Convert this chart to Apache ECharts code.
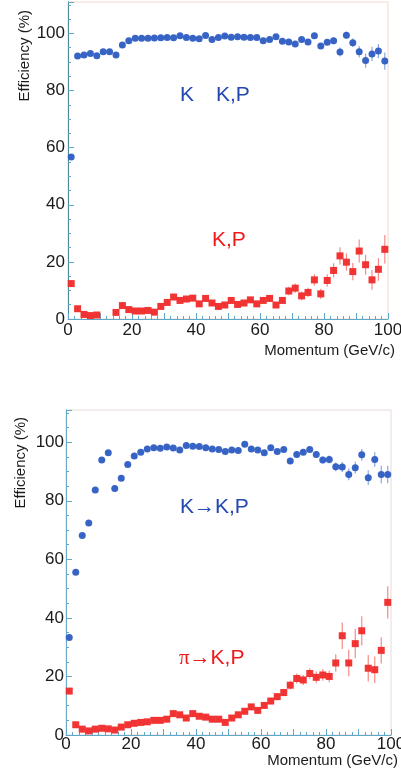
<!DOCTYPE html>
<html>
<head>
<meta charset="utf-8">
<script src="https://cdn.jsdelivr.net/npm/echarts@6/dist/echarts.min.js"></script>
<style>
  html, body { margin: 0; padding: 0; background: #ffffff; }
  #chart { width: 401px; height: 782px; }
</style>
</head>
<body>
<div id="chart"></div>
<script>
// Momentum bin centres (GeV/c)
const momentum = [1, 3, 5, 7, 9, 11, 13, 15, 17, 19, 21, 23, 25, 27, 29, 31, 33, 35, 37, 39,
  41, 43, 45, 47, 49, 51, 53, 55, 57, 59, 61, 63, 65, 67, 69, 71, 73, 75, 77, 79,
  81, 83, 85, 87, 89, 91, 93, 95, 97, 99];

// Upper panel: kaon efficiency and misidentification (%)
const topKaonEff = [56.7, 92.1, 92.4, 93.0, 92.2, 93.6, 93.6, 92.4, 95.9, 97.4,
  98.3, 98.3, 98.3, 98.4, 98.5, 98.6, 98.5, 99.2, 98.6, 98.3,
  98.1, 99.3, 97.9, 98.6, 99.1, 98.7, 98.8, 98.7, 98.6, 98.6,
  97.4, 97.9, 98.8, 97.3, 97.0, 96.3, 97.9, 97.0, 99.2, 95.6,
  96.9, 97.4, 93.5, 99.4, 96.7, 93.6, 90.5, 92.8, 93.8, 90.3];
const topKaonErr = [0.8, 0.6, 0.5, 0.5, 0.5, 0.5, 0.5, 0.5, 0.5, 0.5,
  0.4, 0.4, 0.4, 0.4, 0.4, 0.4, 0.4, 0.4, 0.4, 0.4,
  0.4, 0.4, 0.4, 0.4, 0.4, 0.4, 0.4, 0.4, 0.5, 0.5,
  0.5, 0.5, 0.5, 0.6, 0.6, 0.7, 0.7, 0.8, 0.8, 1.0,
  1.0, 1.2, 1.6, 1.2, 1.5, 2.0, 2.5, 2.5, 2.5, 3.0];
const topMisId = [12.4, 3.6, 1.6, 1.2, 1.4, null, null, 2.3, 4.7, 3.3,
  2.8, 2.8, 3.0, 2.4, 4.4, 5.8, 7.7, 6.5, 7.0, 7.3,
  5.3, 7.2, 5.6, 4.4, 4.9, 6.5, 5.1, 5.6, 6.7, 5.3,
  6.5, 7.2, 4.9, 6.5, 9.8, 10.8, 8.1, 9.3, 13.7, 8.8,
  13.5, 17.0, 22.1, 19.9, 16.6, 23.8, 19.0, 13.7, 17.4, 24.4];
const topMisIdErr = [1.0, 0.8, 0.6, 0.6, 0.6, 0, 0, 0.6, 0.8, 0.7,
  0.6, 0.6, 0.6, 0.6, 0.7, 0.8, 0.9, 0.8, 0.8, 0.9,
  0.8, 0.9, 0.8, 0.8, 0.8, 0.9, 0.8, 0.9, 1.0, 0.9,
  1.0, 1.1, 1.0, 1.1, 1.5, 1.6, 1.5, 1.6, 2.0, 1.8,
  2.2, 2.5, 3.0, 3.0, 3.0, 4.0, 3.5, 3.5, 4.0, 5.0];

// Lower panel: K -> K,P and pi -> K,P (%)
const botKaonEff = [33.3, 55.6, 68.1, 72.4, 83.7, 93.9, 96.4, 84.2, 87.7, 92.4,
  95.3, 96.6, 97.7, 98.1, 97.9, 98.4, 98.0, 97.3, 98.9, 98.6,
  98.5, 98.1, 97.7, 97.5, 96.8, 97.3, 97.2, 99.3, 97.7, 97.3,
  96.4, 98.1, 96.8, 97.5, 93.6, 95.8, 96.6, 97.5, 95.8, 93.9,
  94.1, 91.6, 91.5, 89.0, 91.3, 95.7, 87.9, 94.1, 89.0, 89.0];
const botKaonErr = [0.8, 0.8, 0.7, 0.7, 0.6, 0.5, 0.5, 0.6, 0.6, 0.5,
  0.5, 0.4, 0.4, 0.4, 0.4, 0.4, 0.4, 0.4, 0.4, 0.4,
  0.4, 0.4, 0.4, 0.4, 0.5, 0.5, 0.5, 0.5, 0.5, 0.5,
  0.6, 0.6, 0.6, 0.7, 1.0, 0.9, 0.9, 0.9, 1.0, 1.2,
  1.4, 1.5, 1.7, 2.0, 2.0, 2.0, 2.5, 2.5, 3.0, 3.0];
const botMisId = [15.0, 3.5, 2.0, 1.4, 2.0, 2.3, 2.1, 1.7, 2.7, 3.5,
  4.0, 4.3, 4.5, 5.0, 5.0, 5.4, 7.3, 6.9, 5.8, 7.3,
  6.4, 6.1, 5.4, 5.4, 4.3, 5.8, 6.9, 8.1, 9.6, 8.4,
  10.1, 11.6, 13.1, 14.5, 17.0, 19.3, 18.8, 21.0, 19.7, 20.5,
  20.0, 24.6, 33.9, 24.6, 31.2, 35.6, 22.8, 22.3, 28.9, 45.3];
const botMisIdErr = [1.0, 0.7, 0.6, 0.5, 0.6, 0.6, 0.6, 0.6, 0.6, 0.6,
  0.7, 0.7, 0.7, 0.7, 0.7, 0.8, 0.8, 0.8, 0.8, 0.8,
  0.8, 0.8, 0.8, 0.8, 0.8, 0.8, 0.9, 0.9, 1.0, 1.0,
  1.0, 1.1, 1.2, 1.3, 1.5, 1.7, 1.7, 1.8, 2.0, 2.0,
  2.0, 3.0, 4.5, 4.5, 5.0, 5.0, 4.5, 4.5, 4.5, 5.5];

const xTickLabels = ['0', '20', '40', '60', '80', '100'];
const yTickLabels = ['0', '20', '40', '60', '80', '100'];

const BLUE = '#2d5cc2';
const RED = '#f02a2a';
const AXIS = '#5fa9c8';
const FONT = '"Liberation Sans", Arial, sans-serif';

function points(vals, errs) {
  return momentum.map((m, i) => vals[i] == null ? [m, null, 0] : [m, vals[i], errs[i]]);
}

function errorBars(color) {
  return function (params, api) {
    const y = api.value(1);
    if (y == null || isNaN(y)) return null;
    const x = api.value(0);
    const e = api.value(2);
    const hi = api.coord([x, y + e]);
    const lo = api.coord([x, y - e]);
    return {
      type: 'line',
      shape: { x1: hi[0], y1: hi[1], x2: lo[0], y2: lo[1] },
      style: { stroke: color, lineWidth: 1.2, opacity: 0.55 }
    };
  };
}

function xAxisFor(gridIndex) {
  return {
    type: 'value', gridIndex, min: 0, max: 100, interval: 10,
    axisLine: { show: true, onZero: false, lineStyle: { color: AXIS, width: 1 } },
    axisTick: { show: true, inside: true, length: 6, lineStyle: { color: AXIS } },
    minorTick: { show: true, splitNumber: 5, length: 3, lineStyle: { color: AXIS } },
    splitLine: { show: false },
    axisLabel: {
      color: '#1a1a1a', fontSize: 17, fontFamily: FONT, margin: gridIndex === 0 ? 3 : 1,
      formatter: v => xTickLabels.includes(String(v)) && v % 20 === 0 ? String(v) : ''
    },
    name: 'Momentum (GeV/c)',
    nameLocation: 'end',
    nameGap: 7,
    nameMoveOverlap: false,
    nameTextStyle: {
      color: '#1a1a1a', fontSize: 15, fontFamily: FONT,
      align: 'right', verticalAlign: 'top',
      padding: [gridIndex === 0 ? 24 : 18, 0, 0, 0]
    }
  };
}

function yAxisFor(gridIndex) {
  return {
    type: 'value', gridIndex, min: 0, max: 111, interval: 20,
    axisLine: { show: true, onZero: false, lineStyle: { color: AXIS, width: 1 } },
    axisTick: { show: true, inside: true, length: 6, lineStyle: { color: AXIS } },
    minorTick: { show: true, splitNumber: 4, length: 3, lineStyle: { color: AXIS } },
    splitLine: { show: false },
    axisLabel: {
      color: '#1a1a1a', fontSize: 17, fontFamily: FONT, margin: gridIndex === 0 ? 3 : 2,
      showMaxLabel: false,
      formatter: v => yTickLabels.includes(String(v)) ? String(v) : ''
    },
    name: 'Efficiency (%)',
    nameLocation: 'end',
    nameRotate: 90,
    nameGap: gridIndex === 0 ? -8 : -7,
    nameMoveOverlap: false,
    nameTextStyle: {
      color: '#1a1a1a', fontSize: 15, fontFamily: FONT,
      align: 'right', verticalAlign: 'bottom',
      padding: [0, 0, gridIndex === 0 ? 36 : 38, 0]
    }
  };
}

// Right-hand frame edge of each panel
function rightFrame(gridIndex) {
  return {
    type: 'value', gridIndex, position: 'right', min: 0, max: 111,
    axisLine: { show: true, lineStyle: { color: gridIndex === 0 ? '#4d8a96' : '#6aaac8', width: 1 } },
    axisTick: { show: false }, axisLabel: { show: false }, splitLine: { show: false }
  };
}

function scatter(name, xi, vals, errs, symbol, color) {
  return {
    name, type: 'scatter', xAxisIndex: xi, yAxisIndex: xi * 2,
    data: points(vals, errs),
    symbol, symbolSize: 7,
    itemStyle: { color, opacity: 0.95 },
    z: 3
  };
}

function bars(name, xi, vals, errs, color) {
  return {
    name: name + ' err', type: 'custom', xAxisIndex: xi, yAxisIndex: xi * 2,
    data: points(vals, errs),
    renderItem: errorBars(color),
    encode: { x: 0, y: 1 },
    z: 2
  };
}

const chart = echarts.init(document.getElementById('chart'), null, { renderer: 'canvas' });

chart.setOption({
  animation: false,
  backgroundColor: '#ffffff',
  grid: [
    { left: 68, right: 13, top: 2, bottom: 463, show: true, borderColor: '#f3d9cf', borderWidth: 1,
      backgroundColor: 'transparent', containLabel: false, outerBoundsMode: 'none' },
    { left: 66, right: 10, top: 410, bottom: 47, show: true, borderColor: '#e6dcd8', borderWidth: 1,
      backgroundColor: 'transparent', containLabel: false, outerBoundsMode: 'none' }
  ],
  xAxis: [xAxisFor(0), xAxisFor(1)],
  yAxis: [yAxisFor(0), rightFrame(0), yAxisFor(1), rightFrame(1)],
  series: [
    bars('K top', 0, topKaonEff, topKaonErr, BLUE),
    bars('KP top', 0, topMisId, topMisIdErr, RED),
    scatter('K → K,P', 0, topKaonEff, topKaonErr, 'circle', BLUE),
    scatter('→ K,P', 0, topMisId, topMisIdErr, 'rect', RED),
    bars('K bottom', 1, botKaonEff, botKaonErr, BLUE),
    bars('pi bottom', 1, botMisId, botMisIdErr, RED),
    scatter('K→K,P', 1, botKaonEff, botKaonErr, 'circle', BLUE),
    scatter('π→K,P', 1, botMisId, botMisIdErr, 'rect', RED)
  ],
  graphic: [
    { type: 'text', left: 180, top: 85, style: { text: 'K', fill: '#2347b0', font: '21px ' + FONT } },
    { type: 'text', left: 216, top: 85, style: { text: 'K,P', fill: '#2347b0', font: '21px ' + FONT } },
    { type: 'text', left: 212, top: 230, style: { text: 'K,P', fill: '#f01818', font: '21px ' + FONT } },
    { type: 'text', left: 180, top: 497, style: { text: 'K→K,P', fill: '#2347b0', font: '21px ' + FONT } },
    {
      type: 'text', left: 179, top: 648,
      style: {
        text: '{p|π}{t|→K,P}',
        rich: {
          p: { fill: '#f01818', fontSize: 21, fontFamily: '"Liberation Serif", serif' },
          t: { fill: '#f01818', fontSize: 21, fontFamily: FONT }
        }
      }
    }
  ]
});
</script>
</body>
</html>
